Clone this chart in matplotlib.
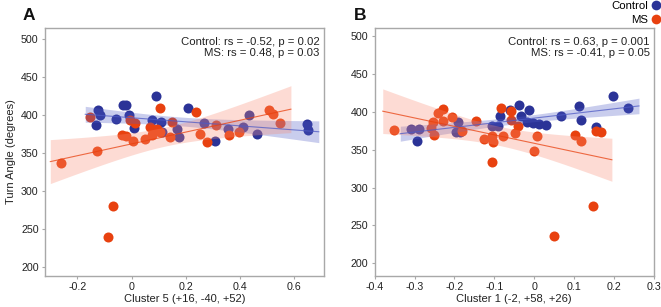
import numpy as np
import matplotlib
matplotlib.use("Agg")
import matplotlib.pyplot as plt

plt.rcParams['font.family'] = ['Liberation Sans', 'DejaVu Sans']

# Panel A data: Cluster 5 vs Turn Angle
a_ctrl_x = [-0.124, -0.13, -0.117, -0.058, -0.031, -0.019, -0.009, 0.01, 0.09, 0.074,
            0.108, 0.111, 0.167, 0.175, 0.207, 0.269, 0.308, 0.356, 0.411, 0.434, 0.463,
            0.648, 0.65]
a_ctrl_y = [406.6, 386.7, 400, 395.6, 413, 413, 400, 383, 425, 393,
            391, 378, 382, 371, 409.7, 390, 365.5, 382, 384.5, 400, 375.7,
            389, 381]
a_ms_x = [-0.154, -0.126, -0.259, -0.068, -0.087, -0.037, -0.019, 0.006, -0.006, 0.012,
          0.049, 0.068, 0.08, 0.093, 0.105, 0.074, 0.105, 0.15, 0.142, 0.236,
          0.253, 0.278, 0.311, 0.361, 0.396, 0.506, 0.522, 0.547]
a_ms_y = [397, 352.7, 337.3, 279.7, 239.6, 373.5, 372, 365.5, 393, 390,
          368, 384.5, 378, 382, 378, 373.5, 409, 391, 371, 404,
          375.7, 364, 386.7, 373.5, 378, 406.6, 401.3, 390.3]

# Panel B data: Cluster 1 vs Turn Angle
b_ctrl_x = [-0.308, -0.289, -0.295, -0.191, -0.197, -0.187, -0.107, -0.091, -0.086, -0.061,
            -0.039, -0.013, -0.032, -0.019, -0.003, 0.011, 0.029, 0.067, 0.113, 0.117,
            0.156, 0.198, 0.235]
b_ctrl_y = [377.5, 377.5, 362, 386.2, 373, 373, 381, 381, 395, 403,
            408.8, 403, 394, 386, 385.4, 384, 382.2, 394, 408.4, 389,
            379.6, 420.7, 405.3]
b_ms_x = [-0.352, -0.258, -0.254, -0.252, -0.241, -0.23, -0.229, -0.205, -0.18, -0.147,
          -0.127, -0.106, -0.103, -0.106, -0.084, -0.078, -0.057, -0.059, -0.049, -0.04,
          -0.001, 0.008, 0.103, 0.117, 0.154, 0.167, 0.05, 0.148]
b_ms_y = [375.7, 379, 386.2, 370, 398.7, 404, 387.5, 393.4, 374.3, 387.5,
          364.2, 367.7, 359.7, 333.7, 405.3, 367.7, 400.8, 389.8, 372.2, 381.8,
          347.8, 368.6, 369.9, 361, 374.3, 373.5, 236, 276.2]

a_stats = ["Control: rs = -0.52, p = 0.02", "MS: rs = 0.48, p = 0.03"]
b_stats = ["Control: rs = 0.63, p = 0.001", "MS: rs = -0.41, p = 0.05"]

BLUE = "#2B3397"
RED = "#E8410F"
BLUE_BAND = "#4E5AC4"
RED_BAND = "#F98A72"

fig = plt.figure(figsize=(6.61, 3.07), dpi=100)
axA = fig.add_axes([0.068, 0.101, 0.422, 0.808])
axB = fig.add_axes([0.567, 0.101, 0.422, 0.808])


def fit_band(ax, x, y, color, band_color, xlim, band_alpha):
    x = np.asarray(x, float)
    y = np.asarray(y, float)
    n = len(x)
    b, a = np.polyfit(x, y, 1)
    ext = 0.04 * (xlim[1] - xlim[0])
    xs = np.linspace(x.min() - ext, x.max() + ext, 100)
    yhat = a + b * xs
    resid = y - (a + b * x)
    s = np.sqrt(np.sum(resid ** 2) / (n - 2))
    sxx = np.sum((x - x.mean()) ** 2)
    se = s * np.sqrt(1.0 / n + (xs - x.mean()) ** 2 / sxx)
    t = 2.03
    ax.fill_between(xs, yhat - t * se, yhat + t * se, color=band_color, alpha=band_alpha,
                    lw=0, zorder=3)
    ax.plot(xs, yhat, color=color, lw=0.8, alpha=0.75, zorder=4)


def style(ax, xlim, ylim, xticks, xlabels, xlabel):
    ax.set_xlim(*xlim)
    ax.set_ylim(*ylim)
    ax.set_xticks(xticks)
    ax.set_xticklabels(xlabels)
    ax.set_yticks([200, 250, 300, 350, 400, 450, 500])
    for sp in ax.spines.values():
        sp.set_color("#A8A8A8")
        sp.set_linewidth(1.0)
    ax.tick_params(axis="both", colors="#A8A8A8", labelcolor="#222222",
                   labelsize=7.7, length=2.5, width=0.8, direction="out", pad=2)
    ax.set_xlabel(xlabel, fontsize=8, color="#222222", labelpad=1.5)


def panel(ax, cx, cy, mx, my, xlim, ylim, stats):
    ax.scatter(cx, cy, s=52, color=BLUE, lw=0, zorder=2)
    ax.scatter(mx, my, s=52, color=RED, lw=0, zorder=2)
    fit_band(ax, cx, cy, BLUE_BAND, BLUE_BAND, xlim, 0.3)
    fit_band(ax, mx, my, RED, RED_BAND, xlim, 0.3)
    ax.text(0.985, 0.965, stats[0] + "\n" + stats[1], transform=ax.transAxes,
            ha="right", va="top", fontsize=8.2, color="#222222", linespacing=1.2)


xlimA = (-0.32, 0.71)
ylimA = (188, 515)
panel(axA, a_ctrl_x, a_ctrl_y, a_ms_x, a_ms_y, xlimA, ylimA, a_stats)
style(axA, xlimA, ylimA, [-0.2, 0, 0.2, 0.4, 0.6], ["-0.2", "0", "0.2", "0.4", "0.6"],
      "Cluster 5 (+16, -40, +52)")
axA.set_ylabel("Turn Angle (degrees)", fontsize=8, color="#222222", labelpad=4)

xlimB = (-0.4, 0.3)
ylimB = (183, 511)
panel(axB, b_ctrl_x, b_ctrl_y, b_ms_x, b_ms_y, xlimB, ylimB, b_stats)
style(axB, xlimB, ylimB, [-0.4, -0.3, -0.2, -0.1, 0, 0.1, 0.2, 0.3],
      ["-0.4", "-0.3", "-0.2", "-0.1", "0", "0.1", "0.2", "0.3"],
      "Cluster 1 (-2, +58, +26)")

fig.text(0.034, 0.935, "A", fontsize=12.5, fontweight="bold", color="#111111")
fig.text(0.536, 0.935, "B", fontsize=12.5, fontweight="bold", color="#111111")

h1 = plt.Line2D([], [], marker="o", ls="", color=BLUE, markersize=7, mew=0)
h2 = plt.Line2D([], [], marker="o", ls="", color=RED, markersize=7, mew=0)
fig.legend([h1, h2], ["Control", "MS"], loc="upper right", bbox_to_anchor=(1.0, 1.0),
           frameon=False, markerfirst=False, fontsize=8.2, handlelength=0.8,
           handletextpad=0.3, labelspacing=0.35, borderaxespad=0.05, borderpad=0.0)

fig.savefig("out.png", dpi=100)
